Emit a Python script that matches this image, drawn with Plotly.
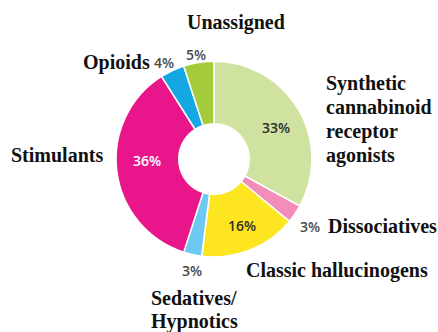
import plotly.graph_objects as go

categories = ["Synthetic cannabinoid receptor agonists", "Dissociatives", "Classic hallucinogens",
              "Sedatives/Hypnotics", "Stimulants", "Opioids", "Unassigned"]
values = [33, 3, 16, 3, 36, 4, 5]
colors = ["#cfe29f", "#f28db9", "#fde51f", "#6dc9f1", "#e9168b", "#13a8e2", "#a4cb3a"]
pct_colors = ["#2e2e2e", "#4a4a4a", "#2e2e2e", "#4a4a4a", "#ffffff", "#4a4a4a", "#4a4a4a"]

W, H = 438, 332

fig = go.Figure(go.Pie(
    labels=categories, values=values, sort=False, direction="clockwise", rotation=0,
    hole=0.36, marker=dict(colors=colors, line=dict(color="white", width=1.5)),
    textinfo="none",
    domain=dict(x=[0.265, 0.712], y=[0.226, 0.816]),
    showlegend=False, hoverinfo="label+percent",
))

lab_font = dict(family="Liberation Serif", size=20, color="#111111")

# category label placements (pixel positions)
label_lines = [
    ("Unassigned", 236, 23, "center"),
    ("Opioids", 152, 62, "right"),
    ("Synthetic", 324, 83, "left"),
    ("cannabinoid", 324, 107, "left"),
    ("receptor", 324, 131, "left"),
    ("agonists", 324, 155, "left"),
    ("Stimulants", 9, 155, "left"),
    ("Dissociatives", 326, 226, "left"),
    ("Classic hallucinogens", 244, 270, "left"),
    ("Sedatives/", 149, 298, "left"),
    ("Hypnotics", 149, 321, "left"),
]
# percentage label placements per slice (pixel positions)
pct_pos = [(276, 127), (310, 226), (242, 225), (192, 270), (147, 160), (164, 62), (196, 54)]

annotations = []
for t, x, y, anc in label_lines:
    annotations.append(dict(text=f"<b>{t}</b>", x=x / W, y=1 - y / H, xref="paper", yref="paper",
                            xanchor=anc, yanchor="middle", showarrow=False, font=lab_font))
for v, (x, y), c in zip(values, pct_pos, pct_colors):
    annotations.append(dict(text=f"{v}%", x=x / W, y=1 - y / H, xref="paper", yref="paper",
                            xanchor="center", yanchor="middle", showarrow=False,
                            font=dict(family="Open Sans", size=14, color=c, weight=600)))

fig.update_layout(width=W, height=H, margin=dict(l=0, r=0, t=0, b=0),
                  paper_bgcolor="white", plot_bgcolor="white", annotations=annotations)
fig.write_html("out.html", config={"displayModeBar": False},
               post_script="document.body.style.margin='0';")
